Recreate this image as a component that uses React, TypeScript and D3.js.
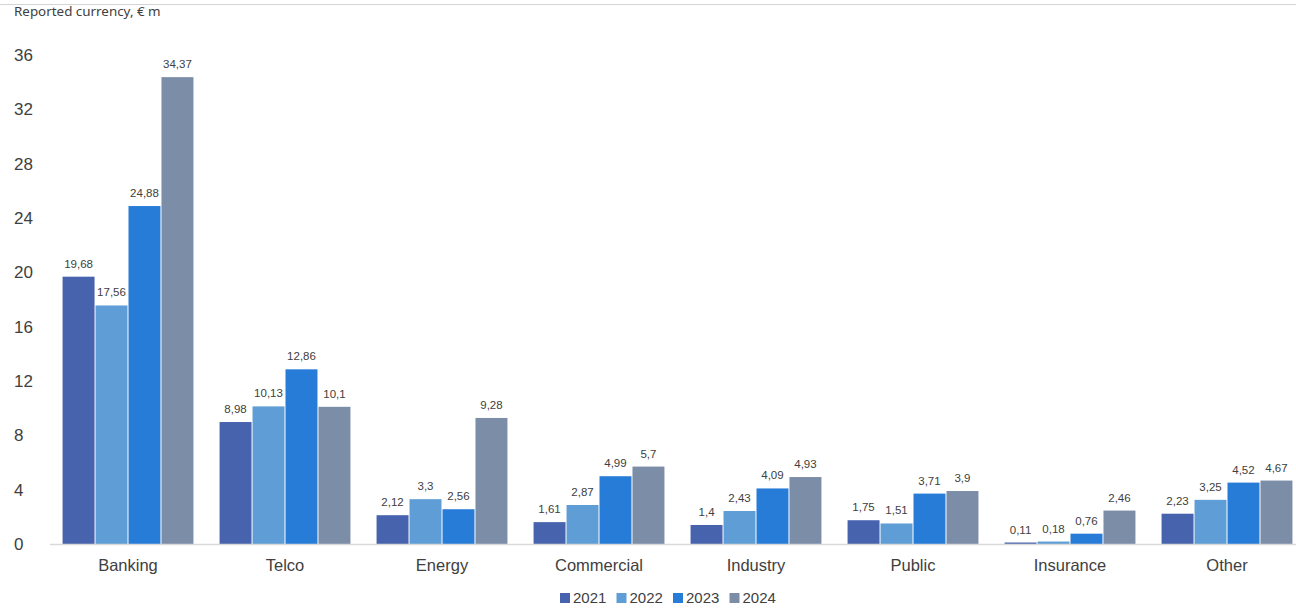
import React from "react";
import * as d3 from "d3";

const categories = ["Banking", "Telco", "Energy", "Commercial", "Industry", "Public", "Insurance", "Other"];
const years = ["2021", "2022", "2023", "2024"];
const values2021 = [19.68, 8.98, 2.12, 1.61, 1.4, 1.75, 0.11, 2.23];
const values2022 = [17.56, 10.13, 3.3, 2.87, 2.43, 1.51, 0.18, 3.25];
const values2023 = [24.88, 12.86, 2.56, 4.99, 4.09, 3.71, 0.76, 4.52];
const values2024 = [34.37, 10.1, 9.28, 5.7, 4.93, 3.9, 2.46, 4.67];
const yTicks = [0, 4, 8, 12, 16, 20, 24, 28, 32, 36];
const colors = ["#4863AE", "#5E9DD5", "#277CD8", "#7C8DA8"];

const series = [values2021, values2022, values2023, values2024];

export default function App() {
  const W = 1296, H = 610;
  const x = d3.scaleBand<string>().domain(categories).range([49.5, 1305.5]).paddingInner(0.16).paddingOuter(0.08);
  const x1 = d3.scaleBand<string>().domain(years).range([0, x.bandwidth()]).padding(0);
  const y = d3.scaleLinear().domain([0, 36]).range([544, 55]);
  const fmt = (v: number) => String(v).replace(".", ",");
  const numFont = "'Liberation Sans', Arial, sans-serif";
  return (
    <svg width={W} height={H} style={{ position: "absolute", left: 0, top: 0, background: "#fff" }}>
      <line x1={0} x2={W} y1={4.5} y2={4.5} stroke="#d4d4d4" strokeWidth={1} />
      <text x={14} y={16} fontFamily="'Noto Sans', 'Open Sans', sans-serif" fontSize={13.4} fill="#404040">
        Reported currency, € m
      </text>
      {yTicks.map((t) => (
        <text key={t} x={14} y={y(t) + 6} fontFamily={numFont} fontSize={17} fill="#404040">
          {t}
        </text>
      ))}
      {categories.map((c, ci) => (
        <g key={c} transform={`translate(${x(c)},0)`}>
          {years.map((yr, si) => {
            const v = series[si][ci];
            const bx = x1(yr)!;
            const bw = x1.bandwidth();
            return (
              <g key={yr}>
                <rect x={bx + 0.5} y={y(v)} width={bw - 1} height={544 - y(v)} fill={colors[si]} />
                <text x={bx + bw / 2} y={y(v) - 9} textAnchor="middle" fontFamily={numFont} fontSize={11.5} fill="#404040">
                  {fmt(v)}
                </text>
              </g>
            );
          })}
          <text x={x.bandwidth() / 2} y={571} textAnchor="middle" fontFamily={numFont} fontSize={16.5} fill="#404040">
            {c}
          </text>
        </g>
      ))}
      <line x1={50} x2={W} y1={544.5} y2={544.5} stroke="#d9d9d9" strokeWidth={1.5} />
      {years.map((yr, i) => (
        <g key={yr} transform={`translate(${560 + i * 56.5},0)`}>
          <rect x={0} y={593} width={10} height={10} fill={colors[i]} />
          <text x={13} y={603} fontFamily={numFont} fontSize={15} fill="#404040">
            {yr}
          </text>
        </g>
      ))}
    </svg>
  );
}
